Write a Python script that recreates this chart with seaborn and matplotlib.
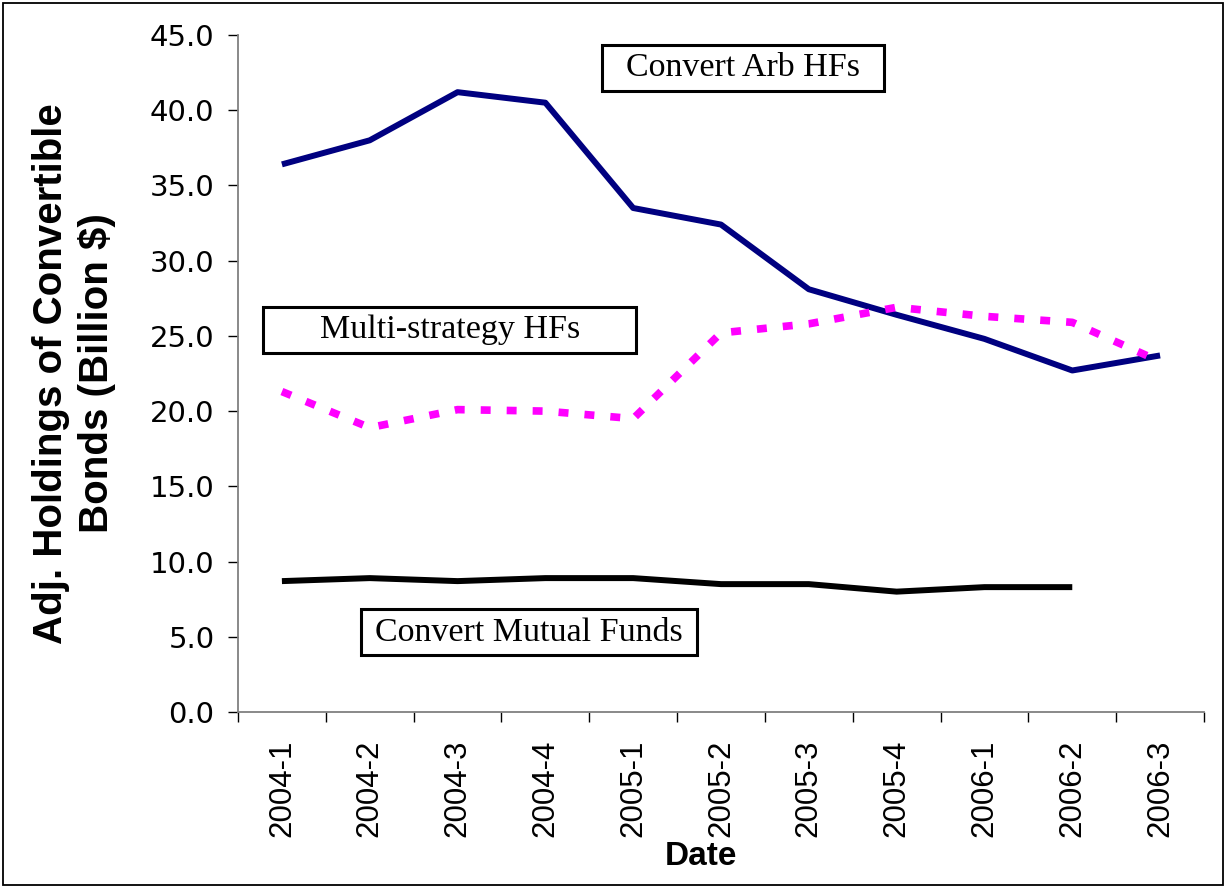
import numpy as np
import pandas as pd
import seaborn as sns
import matplotlib.pyplot as plt
import matplotlib.ticker as ticker
from matplotlib.patches import Rectangle

# quarters on the x axis
quarters = ["2004-1", "2004-2", "2004-3", "2004-4", "2005-1", "2005-2",
            "2005-3", "2005-4", "2006-1", "2006-2", "2006-3"]

# adj. holdings, billion $
convert_arb = [36.4, 38.0, 41.2, 40.5, 33.5, 32.4, 28.1, 26.4, 24.8, 22.7, 23.7]
multi_strategy = [21.3, 18.9, 20.1, 20.0, 19.5, 25.2, 25.8, 26.9, 26.3, 25.9, 23.3]
mutual_funds = [8.7, 8.9, 8.7, 8.9, 8.9, 8.5, 8.5, 8.0, 8.3, 8.3, np.nan]

y_ticks = [0, 5, 10, 15, 20, 25, 30, 35, 40, 45]

df = pd.DataFrame({"Date": quarters,
                   "arb": convert_arb,
                   "multi": multi_strategy,
                   "mutual": mutual_funds})

sns.set_style("white")
plt.rcParams['font.family'] = ['Liberation Sans', 'DejaVu Sans']
plt.rcParams['text.color'] = 'black'
plt.rcParams['axes.labelcolor'] = 'black'
plt.rcParams['xtick.color'] = 'black'
plt.rcParams['ytick.color'] = 'black'

fig = plt.figure(figsize=(12.26, 8.88), dpi=100)
ax = fig.add_axes([238/1226, 1-712/888, 966/1226, 677/888])

sns.lineplot(data=df, x="Date", y="arb", color='#000080', linewidth=4.3, ax=ax)
sns.lineplot(data=df, x="Date", y="mutual", color='black', linewidth=4.3, ax=ax)
# dotted magenta sits on top of the navy line
sns.lineplot(data=df, x="Date", y="multi", color='#FF00FF', linewidth=5.5,
             linestyle=(0, (1.3, 2.1)), ax=ax)
for ln in ax.lines:
    ln.set_solid_capstyle('butt')
    ln.set_dash_capstyle('butt')

ax.set_xlim(-0.5, len(quarters) - 0.5)
ax.set_ylim(0, 45)

# y axis
ax.set_yticks(y_ticks)
ax.yaxis.set_major_formatter(ticker.FormatStrFormatter('%.1f'))
ax.tick_params(axis='y', which='major', direction='out', length=7, width=1,
               color='black', labelcolor='black', labelsize=21, pad=10, left=True)
for lab in ax.get_yticklabels():
    lab.set_family('DejaVu Sans')

# x axis: labels at the centres, tick marks between categories
ax.set_xticks(range(len(quarters)))
ax.set_xticklabels(quarters, rotation=90)
ax.xaxis.set_minor_locator(ticker.FixedLocator(np.arange(-0.5, len(quarters), 1)))
ax.tick_params(axis='x', which='major', length=0, labelsize=22.5, pad=20,
               labelcolor='black')
ax.tick_params(axis='x', which='minor', direction='out', length=7, width=1,
               color='black', bottom=True)

for s in ['top', 'right']:
    ax.spines[s].set_visible(False)
for s in ['left', 'bottom']:
    ax.spines[s].set_color('#808080')
    ax.spines[s].set_linewidth(1.3)

ax.set_ylabel("Adj. Holdings of Convertible\nBonds (Billion $)", fontsize=29,
              fontweight='bold', va='center', ha='center', linespacing=1.25,
              color='black')
ax.yaxis.set_label_coords((74-238)/966, 0.5)
ax.set_xlabel("Date", fontsize=24, fontweight='bold', va='center', color='black')
ax.xaxis.set_label_coords((701-238)/966, (712-856)/677)

# boxed series names
def box_label(x, y, txt, padx, pady):
    ax.text(x, y, txt, family='Liberation Serif', fontsize=24.5, color='black',
            ha='center', va='center',
            bbox=dict(boxstyle='square,pad=%.2f' % (padx/34.0),
                      mutation_aspect=pady/padx,
                      fc='white', ec='black', lw=2.2))

box_label(5.25, 42.8, "Convert Arb HFs", 24, 8)
box_label(1.91, 25.4, "Multi-strategy HFs", 56, 8)
box_label(2.81, 5.3, "Convert Mutual Funds", 14, 8)

# outer frame
fig.patches.append(Rectangle((3/1226, 3/888), 1220/1226, 882/888,
                             transform=fig.transFigure, fill=False,
                             ec='black', lw=1.3))

plt.savefig('out.png', dpi=100)
